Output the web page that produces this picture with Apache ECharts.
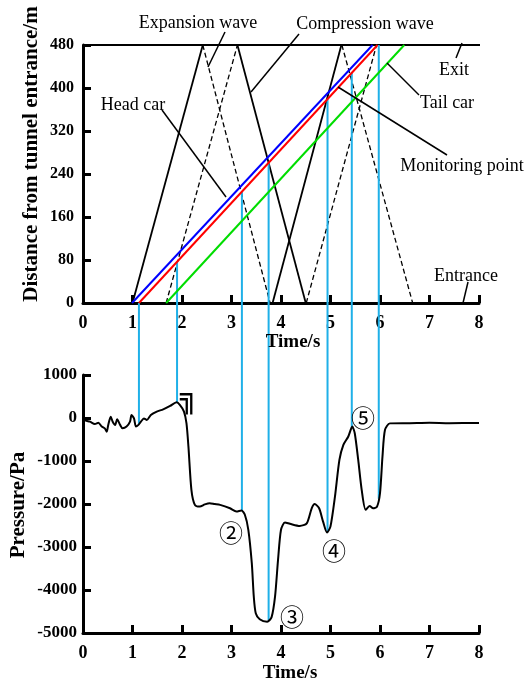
<!DOCTYPE html>
<html>
<head>
<meta charset="utf-8">
<script src="https://cdn.jsdelivr.net/npm/echarts@6/dist/echarts.min.js"></script>
<style>
  html, body { margin: 0; padding: 0; background: #fff; }
  #chart { width: 528px; height: 687px; }
</style>
</head>
<body>
<div id="chart"></div>
<script>
// ---- axis ticks ----
const timeTicks = [0, 1, 2, 3, 4, 5, 6, 7, 8];              // s
const distanceTicks = [0, 80, 160, 240, 320, 400, 480];     // m
const pressureTicks = [-5000, -4000, -3000, -2000, -1000, 0, 1000]; // Pa

// ---- train trajectories: [time s, distance m] ----
const headCar = [[0.99, 0], [5.85, 480]];
const monitoringPoint = [[1.13, 0], [5.95, 480]];
const tailCar = [[1.68, 0], [6.49, 480]];

// ---- pressure wave paths in the tunnel ----
const compressionWaves = [
  [[1.00, 0], [2.42, 480]],
  [[3.12, 480], [4.50, 0]],
  [[3.83, 0], [5.22, 480]]
];
const expansionWaves = [
  [[2.42, 480], [3.78, 0]],
  [[1.68, 0], [3.12, 480]],
  [[4.51, 0], [5.93, 480]],
  [[5.23, 480], [6.66, 0]]
];
const exitLine = [[0, 480], [8.31, 480]];

// ---- moments when a wave front passes the monitoring point (s) ----
const markTimes = [1.13, 1.90, 3.21, 3.75, 4.94, 5.43, 5.975];

// ---- measured pressure at the monitoring point: [time s, pressure Pa] ----
const pressure = [
  [0, 600], [0.03, -40], [0.14, -85], [0.24, -140], [0.31, -110], [0.38, -200],
  [0.44, -240], [0.48, -320], [0.51, -160], [0.56, 30], [0.60, -85], [0.65, -160],
  [0.69, -30], [0.75, -160], [0.80, -240], [0.88, -200], [0.95, -85], [0.98, 70],
  [1.03, -10], [1.07, -200], [1.12, -160], [1.17, -85], [1.23, -10], [1.29, -45],
  [1.37, 70], [1.49, 150], [1.62, 200], [1.76, 280], [1.89, 365], [1.96, 300],
  [2.04, 150], [2.09, -120], [2.13, -665], [2.19, -1670], [2.26, -2020], [2.36, -2060],
  [2.46, -2010], [2.56, -1980], [2.66, -2000], [2.77, -2020], [2.97, -2100], [3.10, -2175],
  [3.20, -2150], [3.27, -2250], [3.34, -2600], [3.41, -3375], [3.45, -4150], [3.49, -4540],
  [3.57, -4680], [3.72, -4740], [3.81, -4630], [3.88, -4150], [3.94, -3300], [4.00, -2600],
  [4.08, -2430], [4.18, -2460], [4.38, -2510], [4.52, -2450], [4.62, -2100], [4.68, -2000],
  [4.77, -2100], [4.85, -2410], [4.93, -2665], [5.00, -2520], [5.09, -1830], [5.18, -975],
  [5.26, -625], [5.36, -430], [5.44, -200], [5.49, -355], [5.56, -975], [5.63, -1670],
  [5.71, -2135], [5.79, -2045], [5.86, -2100], [5.94, -2060], [6.00, -1750], [6.05, -900],
  [6.10, -280], [6.20, -125], [6.60, -120], [7.00, -110], [7.40, -120], [8.00, -115]
];

const SERIF = '"Liberation Serif", "Times New Roman", serif';
const MARK_BLUE = '#1fb0e8';

const chart = echarts.init(document.getElementById('chart'), null, { renderer: 'canvas' });

function axisCommon(labelSize, margin) {
  return {
    axisLine: { onZero: false, lineStyle: { color: '#000', width: 3 } },
    axisTick: { inside: true, length: 8, lineStyle: { color: '#000', width: 3 } },
    axisLabel: {
      color: '#000', fontFamily: SERIF, fontWeight: 'bold', fontSize: labelSize, margin: margin,
      formatter: v => String(v)
    },
    splitLine: { show: false }
  };
}

function segSeries(data, color, width, type, z) {
  return {
    type: 'line', xAxisIndex: 0, yAxisIndex: 0, data: data,
    symbol: 'none', silent: true, clip: false, z: z || 2,
    lineStyle: { color: color, width: width, type: type || 'solid' },
    animation: false
  };
}

const series = [];
series.push(segSeries(exitLine, '#000', 2));
compressionWaves.forEach(w => series.push(segSeries(w, '#000', 1.8)));
expansionWaves.forEach(w => series.push(segSeries(w, '#000', 1.3, [5, 3])));
series.push(segSeries(headCar, '#0000ff', 2, 'solid', 4));
series.push(segSeries(monitoringPoint, '#ff0000', 2, 'solid', 4));
series.push(segSeries(tailCar, '#00dd00', 2, 'solid', 4));
series.push({
  type: 'line', xAxisIndex: 1, yAxisIndex: 1, data: pressure,
  symbol: 'none', smooth: 0.25, silent: true, z: 4,
  lineStyle: { color: '#000', width: 2 }, animation: false
});

chart.setOption({
  backgroundColor: '#fff',
  animation: false,
  grid: [
    { left: 83, top: 45, width: 396, height: 258 },
    { left: 83, top: 375, width: 396, height: 258 }
  ],
  xAxis: [
    Object.assign({ type: 'value', gridIndex: 0, min: timeTicks[0], max: timeTicks[timeTicks.length - 1], interval: 1 }, axisCommon(18, 11)),
    Object.assign({ type: 'value', gridIndex: 1, min: timeTicks[0], max: timeTicks[timeTicks.length - 1], interval: 1 }, axisCommon(18, 11))
  ],
  yAxis: [
    Object.assign({ type: 'value', gridIndex: 0, min: distanceTicks[0], max: distanceTicks[distanceTicks.length - 1], interval: 80 }, axisCommon(16, 9)),
    Object.assign({ type: 'value', gridIndex: 1, min: pressureTicks[0], max: pressureTicks[pressureTicks.length - 1], interval: 1000 }, axisCommon(17, 6))
  ],
  series: series
});

// position on the monitoring-point trajectory at time t
function monitorDistance(t) {
  const a = monitoringPoint[0], b = monitoringPoint[1];
  const d = a[1] + (b[1] - a[1]) * (t - a[0]) / (b[0] - a[0]);
  return Math.max(0, Math.min(480, d));
}
// measured pressure at time t (linear between samples)
function pressureAt(t) {
  for (let i = 1; i < pressure.length; i++) {
    if (t <= pressure[i][0]) {
      const a = pressure[i - 1], b = pressure[i];
      return a[1] + (b[1] - a[1]) * (t - a[0]) / (b[0] - a[0]);
    }
  }
  return pressure[pressure.length - 1][1];
}

const graphics = [];

// connectors from the wave crossings down to the pressure trace
markTimes.forEach(t => {
  const p1 = chart.convertToPixel({ gridIndex: 0 }, [t, monitorDistance(t)]);
  const p2 = chart.convertToPixel({ gridIndex: 1 }, [t, pressureAt(t)]);
  graphics.push({
    type: 'line', z: 3, silent: true,
    shape: { x1: p1[0], y1: p1[1], x2: p2[0], y2: p2[1] },
    style: { stroke: MARK_BLUE, lineWidth: 2 }
  });
});

function label(text, x, y, size, bold, rot, family) {
  return {
    type: 'text', x: x, y: y, rotation: rot || 0, z: 10, silent: true,
    style: {
      text: text, x: 0, y: 0, fill: '#000',
      font: (bold ? 'bold ' : '') + size + 'px ' + (family || SERIF),
      align: 'center', verticalAlign: 'middle'
    }
  };
}
function leader(x1, y1, x2, y2) {
  return {
    type: 'line', z: 10, silent: true,
    shape: { x1: x1, y1: y1, x2: x2, y2: y2 },
    style: { stroke: '#000', lineWidth: 1.5 }
  };
}

// axis titles
graphics.push(label('Time/s', 293, 342, 19, true));
graphics.push(label('Time/s', 290, 673, 19, true));
graphics.push(label('Distance from tunnel entrance/m', 32, 154, 21, true, Math.PI / 2));
graphics.push(label('Pressure/Pa', 19, 505, 21, true, Math.PI / 2));

// callouts on the wave diagram
graphics.push(label('Expansion wave', 198, 23, 18));
graphics.push(leader(225, 32, 208, 67));
graphics.push(label('Compression wave', 365, 24, 18));
graphics.push(leader(299, 34, 251, 92));
graphics.push(label('Head car', 133, 105, 18));
graphics.push(leader(162, 110, 226, 197));
graphics.push(label('Exit', 454, 70, 18));
graphics.push(leader(462, 43, 456, 58));
graphics.push(label('Tail car', 447, 103, 18));
graphics.push(leader(387, 63, 419, 95));
graphics.push(label('Monitoring point', 462, 166, 18));
graphics.push(leader(338, 87, 447, 155));
graphics.push(label('Entrance', 466, 276, 18));
graphics.push(leader(468, 282, 463, 303));

// event markers on the pressure trace
const CJK = '"Noto Sans CJK JP", "DejaVu Sans", sans-serif';
graphics.push(label('╗', 189, 399, 30, true, 0, '"DejaVu Sans Mono", "DejaVu Sans", monospace'));
[['②', 231, 533], ['③', 292, 617], ['④', 334, 551], ['⑤', 363, 418]].forEach(m => {
  graphics.push(label(m[0], m[1], m[2], 24, false, 0, CJK));
});

chart.setOption({ graphic: graphics });
</script>
</body>
</html>
